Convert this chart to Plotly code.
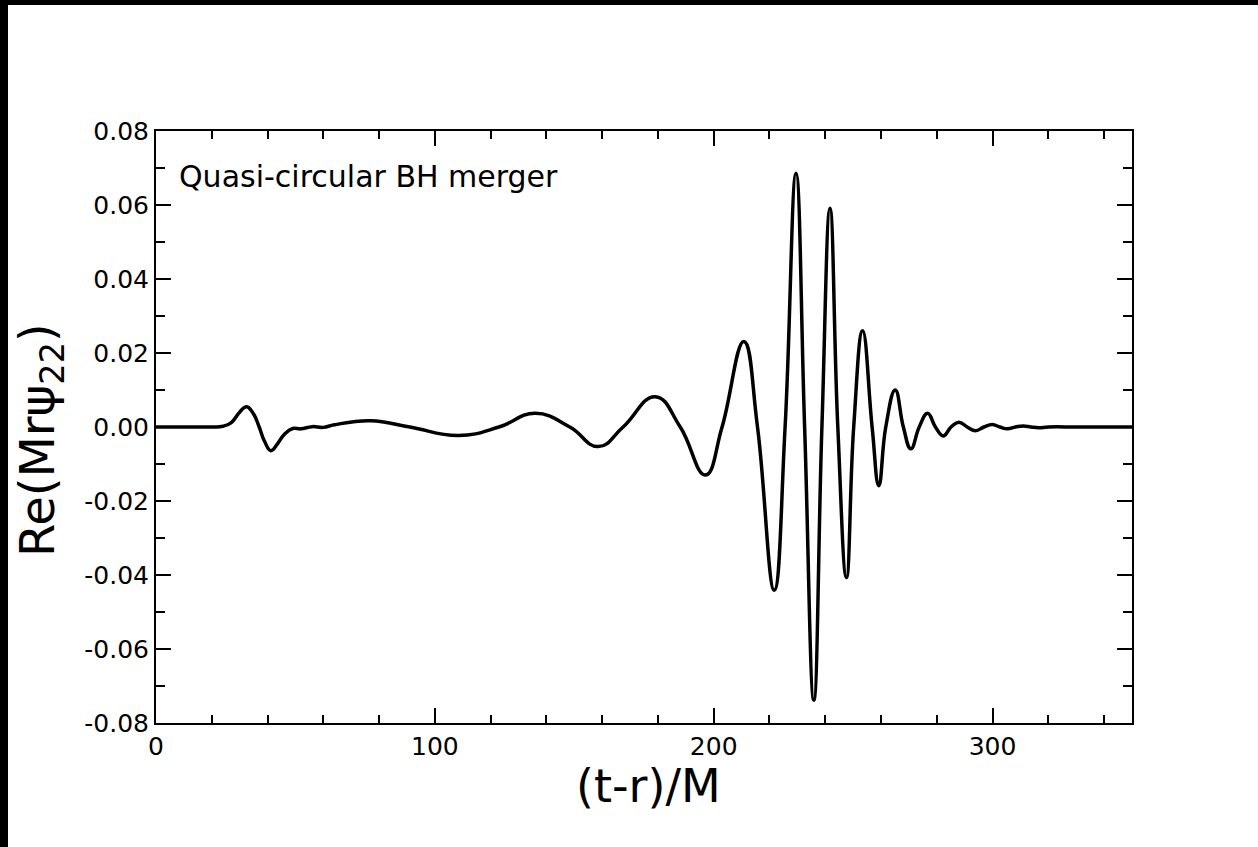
import plotly.graph_objects as go

# (t-r)/M sample positions and Re(M r psi_22) values
t_vals = [0, 10, 20, 24, 27, 30, 32.5, 35, 37, 39, 41.2, 43.5, 46, 49, 52, 56, 60, 64,
          77, 91, 108.5, 123, 136, 148.4, 158.6, 167.5, 179, 188, 197, 203, 210.8, 215.7,
          221.7, 225.6, 229.5, 232.6, 235.9, 238.8,
          241.7, 244.5, 247.6, 250.2, 253.4, 256.8,
          259.2, 261.7, 265.1, 268.0, 270.7, 273.7,
          276.7, 279.5, 282.3, 285.1, 287.9, 290.9,
          293.9, 296.9, 299.9, 302.6, 305.4, 308.2, 311.0, 313.8, 316.6, 320, 330, 340, 350]
re_psi22 = [0, 0, 0, 0.0002, 0.0012, 0.0040, 0.0055, 0.0035, 0.0, -0.0040, -0.0064, -0.0046,
            -0.0020, -0.0004, -0.0005, 0.0001, -0.0001, 0.0006,
            0.0017, 0.0, -0.0023, 0.0, 0.0037, 0.0, -0.0053, 0.0, 0.0082, 0.0, -0.0130, 0.0,
            0.0231, 0.0,
            -0.0441, 0.0, 0.0686, 0.0, -0.0738, 0.0,
            0.0591, 0.0, -0.0407, 0.0, 0.0260, 0.0,
            -0.0159, 0.0, 0.0100, 0.0, -0.0059, 0.0,
            0.0037, 0.0, -0.0024, 0.0, 0.0013, 0.0,
            -0.0010, 0.0, 0.0007, 0.0, -0.0005, 0.0, 0.0003, 0.0, -0.0002, 0, 0, 0, 0]

x_tick_vals = [0, 100, 200, 300]
x_tick_text = ["0", "100", "200", "300"]
y_tick_vals = [-0.08, -0.06, -0.04, -0.02, 0.0, 0.02, 0.04, 0.06, 0.08]
y_tick_text = ["-0.08", "-0.06", "-0.04", "-0.02", "0.00", "0.02", "0.04", "0.06", "0.08"]

W, H = 1258, 847
L, R, T, B = 156, 126, 131, 124
pw, ph = W - L - R, H - T - B

def px_x(p):
    return (p - L) / pw

def px_y(p):
    return (H - B - p) / ph

FONT = "DejaVu Sans, Liberation Sans, Arial, sans-serif"

fig = go.Figure()
fig.add_trace(go.Scatter(x=t_vals, y=re_psi22, mode="lines",
                         line=dict(color="black", width=3.5, shape="spline", smoothing=1.3),
                         showlegend=False, hoverinfo="skip"))

axis_common = dict(showline=True, linecolor="black", linewidth=2, mirror="ticks",
                   ticks="inside", ticklen=15, tickwidth=2, tickcolor="black",
                   showgrid=False, zeroline=False,
                   tickfont=dict(family=FONT, size=25, color="black"))

fig.update_xaxes(range=[0, 350], tickvals=x_tick_vals, ticktext=x_tick_text,
                 minor=dict(ticks="inside", ticklen=8, tickwidth=2, tickcolor="black",
                            dtick=20, tick0=0, showgrid=False),
                 **axis_common)
fig.update_yaxes(range=[-0.08, 0.08], tickvals=y_tick_vals, ticktext=y_tick_text,
                 minor=dict(ticks="inside", ticklen=9, tickwidth=2, tickcolor="black",
                            dtick=0.01, tick0=0, showgrid=False),
                 **axis_common)

annotations = [
    dict(text="Quasi-circular BH merger", xref="paper", yref="paper",
         x=px_x(177), y=px_y(176), xanchor="left", yanchor="middle", showarrow=False,
         font=dict(family=FONT, size=30, color="black")),
    dict(text="(t-r)/M", xref="paper", yref="paper",
         x=px_x(648), y=px_y(786), xanchor="center", yanchor="middle", showarrow=False,
         font=dict(family=FONT, size=46, color="black")),
    dict(text="Re(Mr\u03c8<sub>22</sub>)", xref="paper", yref="paper", textangle=-90,
         x=px_x(40), y=px_y(440), xanchor="center", yanchor="middle", showarrow=False,
         font=dict(family=FONT, size=48, color="black")),
]

shapes = [
    dict(type="rect", xref="paper", yref="paper", x0=px_x(0), x1=px_x(8),
         y0=px_y(H), y1=px_y(0), fillcolor="black", line=dict(width=0), layer="above"),
    dict(type="rect", xref="paper", yref="paper", x0=px_x(0), x1=px_x(W),
         y0=px_y(5), y1=px_y(0), fillcolor="black", line=dict(width=0), layer="above"),
]

fig.update_layout(width=W, height=H, margin=dict(l=L, r=R, t=T, b=B, pad=0),
                  paper_bgcolor="white", plot_bgcolor="white",
                  annotations=annotations, shapes=shapes,
                  font=dict(family=FONT, color="black"))

fig.write_html("out.html", config={"displayModeBar": False},
               post_script="document.body.style.margin='0';"
                           "document.body.style.overflow='hidden';")
